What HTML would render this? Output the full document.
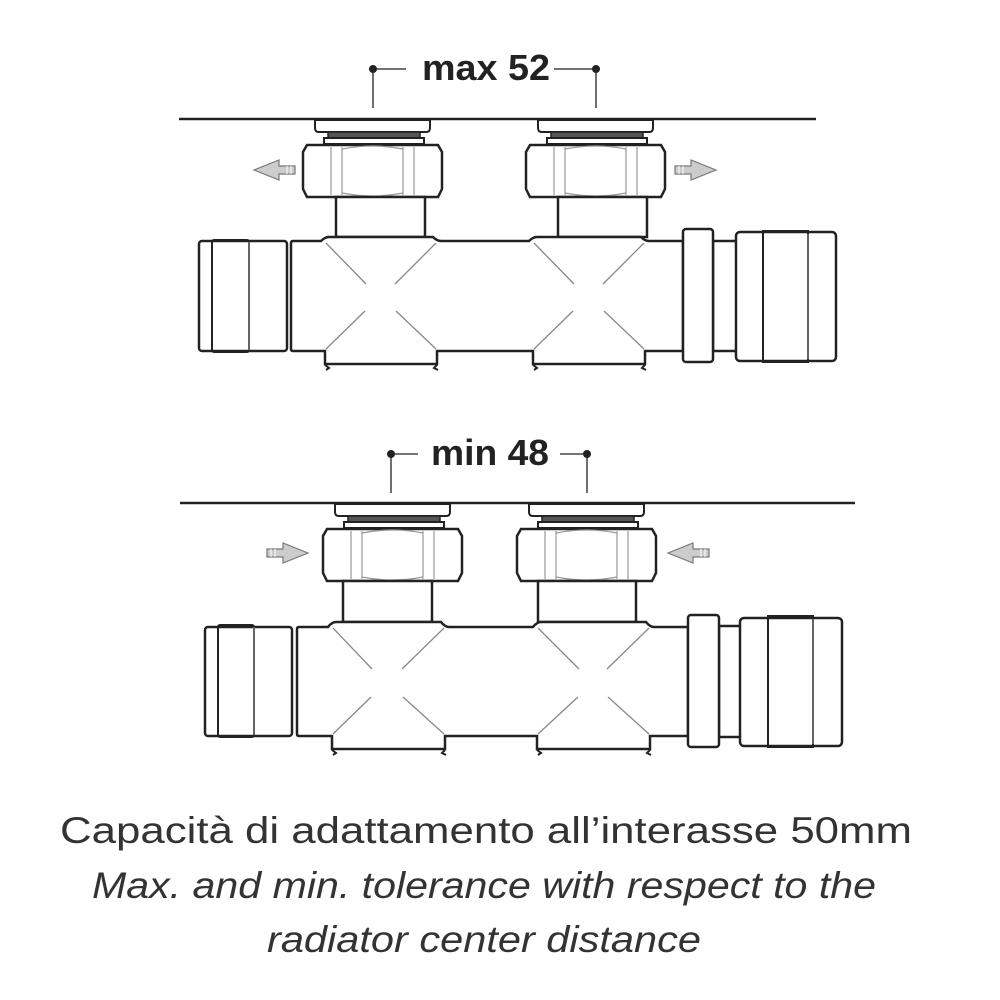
<!DOCTYPE html>
<html><head><meta charset="utf-8"><style>
html,body{margin:0;padding:0;background:#fff;}
svg{display:block}
</style></head><body>
<svg width="1000" height="1000" viewBox="0 0 1000 1000" xmlns="http://www.w3.org/2000/svg">
<defs>
<g id="nut">
  <path d="M12,1 L127,1 L127,9 Q127,13 123,13 L16,13 Q12,13 12,9 Z" fill="#fff" stroke="#222" stroke-width="2"/>
  <rect x="25" y="13" width="92" height="6" fill="#555" stroke="#222" stroke-width="1.5"/>
  <rect x="21" y="19" width="100" height="6" fill="#fff" stroke="#222" stroke-width="2"/>
  <polygon points="4,26 135,26 139,33 139,70 135,78 4,78 0,70 0,33" fill="#fff" stroke="#222" stroke-width="2.5"/>
  <path d="M28,28 V76 M39,28 V76 M100,28 V76 M111,28 V76 M39,30 Q70,24 100,30 M39,74 Q70,80 100,74" fill="none" stroke="#999" stroke-width="1.2"/>
</g>
<g id="arrowL">
  <path d="M0,0 L25,-10 L25,-4 L41,-4 L41,4 L25,4 L25,10 Z" fill="#ccc" stroke="#777" stroke-width="1.2"/>
  <path d="M33,-4 V4 M37,-4 V4" stroke="#fff" stroke-width="1"/>
</g>
</defs>

<!-- ===== TOP DIAGRAM ===== -->
<g stroke="#222" stroke-width="1.3" fill="none">
  <line x1="373" y1="69" x2="373" y2="108"/>
  <line x1="596" y1="69" x2="596" y2="108"/>
  <line x1="373" y1="69" x2="406" y2="69"/>
  <line x1="554" y1="69" x2="596" y2="69"/>
</g>
<circle cx="373" cy="69" r="4" fill="#222"/>
<circle cx="596" cy="69" r="4" fill="#222"/>
<text x="486" y="80" text-anchor="middle" font-family="Liberation Sans, sans-serif" font-size="36" font-weight="bold" fill="#222" textLength="128" lengthAdjust="spacingAndGlyphs">max 52</text>
<line x1="179" y1="119" x2="816" y2="119" stroke="#222" stroke-width="2.5"/>

<use href="#nut" x="303" y="119"/>
<use href="#nut" x="526" y="119"/>
<g stroke="#222" stroke-width="2.5" fill="#fff">
  <rect x="336" y="197" width="89" height="40"/>
  <rect x="558" y="197" width="89" height="40"/>
</g>
<use href="#arrowL" x="254" y="170"/>
<use href="#arrowL" transform="translate(716,170) scale(-1,1)"/>

<path d="M291,243 Q291,241 293,241 L321,241 Q325,237 329,237 L433,237 Q437,241 441,241 L529,241 Q533,237 537,237 L641,237 Q645,241 649,241 L683,241 L683,351 L645,351 L645,364 L533,364 L533,351 L437,351 L437,364 L325,364 L325,351 L293,351 Q291,351 291,349 Z" fill="#fff" stroke="#222" stroke-width="2.5"/>
<path d="M325,365 l4,3 -3,2 M437,365 l-3,3 4,2 M533,365 l4,3 -3,2 M645,365 l-3,3 4,2" stroke="#222" stroke-width="2" fill="none"/>
<g stroke="#888" stroke-width="1.3">
  <line x1="326" y1="243" x2="366" y2="284"/><line x1="436" y1="243" x2="395" y2="284"/>
  <line x1="326" y1="349" x2="365" y2="311"/><line x1="436" y1="349" x2="396" y2="311"/>
  <line x1="534" y1="243" x2="574" y2="284"/><line x1="644" y1="243" x2="603" y2="284"/>
  <line x1="534" y1="349" x2="573" y2="311"/><line x1="644" y1="349" x2="604" y2="311"/>
</g>
<rect x="199" y="241" width="88" height="110" rx="3" fill="#fff" stroke="#222" stroke-width="2.5"/>
<rect x="212" y="240" width="37" height="112" rx="2" fill="none" stroke="#222" stroke-width="2"/>
<line x1="249" y1="242" x2="249" y2="350" stroke="#888" stroke-width="1.3"/>
<rect x="713" y="241" width="24" height="110" fill="#fff" stroke="#222" stroke-width="2.5"/>
<rect x="683" y="229" width="30" height="133" rx="3" fill="#fff" stroke="#222" stroke-width="2.5"/>
<rect x="736" y="232" width="100" height="129" rx="4" fill="#fff" stroke="#222" stroke-width="2.5"/>
<rect x="763" y="231" width="45" height="131" fill="none" stroke="#222" stroke-width="2"/>
<line x1="808" y1="234" x2="808" y2="359" stroke="#888" stroke-width="1.3"/>

<!-- ===== BOTTOM DIAGRAM ===== -->
<g stroke="#222" stroke-width="1.3" fill="none">
  <line x1="391" y1="454" x2="391" y2="493"/>
  <line x1="587" y1="454" x2="587" y2="493"/>
  <line x1="391" y1="454" x2="418" y2="454"/>
  <line x1="560" y1="454" x2="587" y2="454"/>
</g>
<circle cx="391" cy="454" r="4" fill="#222"/>
<circle cx="587" cy="454" r="4" fill="#222"/>
<text x="490" y="465" text-anchor="middle" font-family="Liberation Sans, sans-serif" font-size="36" font-weight="bold" fill="#222" textLength="118" lengthAdjust="spacingAndGlyphs">min 48</text>
<line x1="180" y1="503" x2="855" y2="503" stroke="#222" stroke-width="2.5"/>

<use href="#nut" x="323" y="503"/>
<use href="#nut" x="517" y="503"/>
<g stroke="#222" stroke-width="2.5" fill="#fff">
  <rect x="343" y="581" width="89" height="41"/>
  <rect x="538" y="581" width="98" height="41"/>
</g>
<use href="#arrowL" transform="translate(308,553) scale(-1,1)"/>
<use href="#arrowL" x="668" y="553"/>

<path d="M297,629 Q297,627 299,627 L328,627 Q332,622 336,622 L441,622 Q445,627 449,627 L533,627 Q537,622 541,622 L646,622 Q650,627 654,627 L688,627 L688,736 L650,736 L650,749 L537,749 L537,736 L445,736 L445,749 L332,749 L332,736 L299,736 Q297,736 297,734 Z" fill="#fff" stroke="#222" stroke-width="2.5"/>
<path d="M332,750 l4,3 -3,2 M445,750 l-3,3 4,2 M537,750 l4,3 -3,2 M650,750 l-3,3 4,2" stroke="#222" stroke-width="2" fill="none"/>
<g stroke="#888" stroke-width="1.3">
  <line x1="333" y1="628" x2="372" y2="669"/><line x1="444" y1="628" x2="402" y2="669"/>
  <line x1="333" y1="734" x2="371" y2="697"/><line x1="444" y1="734" x2="403" y2="697"/>
  <line x1="538" y1="628" x2="579" y2="669"/><line x1="649" y1="628" x2="607" y2="669"/>
  <line x1="538" y1="734" x2="578" y2="697"/><line x1="649" y1="734" x2="608" y2="697"/>
</g>
<rect x="205" y="627" width="87" height="109" rx="3" fill="#fff" stroke="#222" stroke-width="2.5"/>
<rect x="218" y="625" width="36" height="112" rx="2" fill="none" stroke="#222" stroke-width="2"/>
<line x1="254" y1="627" x2="254" y2="735" stroke="#888" stroke-width="1.3"/>
<rect x="719" y="626" width="22" height="111" fill="#fff" stroke="#222" stroke-width="2.5"/>
<rect x="688" y="615" width="31" height="132" rx="3" fill="#fff" stroke="#222" stroke-width="2.5"/>
<rect x="740" y="618" width="102" height="128" rx="4" fill="#fff" stroke="#222" stroke-width="2.5"/>
<rect x="768" y="616" width="45" height="131" fill="none" stroke="#222" stroke-width="2"/>
<line x1="813" y1="619" x2="813" y2="744" stroke="#888" stroke-width="1.3"/>

<g font-family="Liberation Sans, sans-serif" font-size="37" fill="#333" text-anchor="middle">
  <text x="486" y="843" textLength="852" lengthAdjust="spacingAndGlyphs">Capacità di adattamento all’interasse 50mm</text>
  <text x="484" y="898" font-style="italic" textLength="784" lengthAdjust="spacingAndGlyphs">Max. and min. tolerance with respect to the</text>
  <text x="484" y="952" font-style="italic" textLength="434" lengthAdjust="spacingAndGlyphs">radiator center distance</text>
</g>
</svg>
</body></html>
